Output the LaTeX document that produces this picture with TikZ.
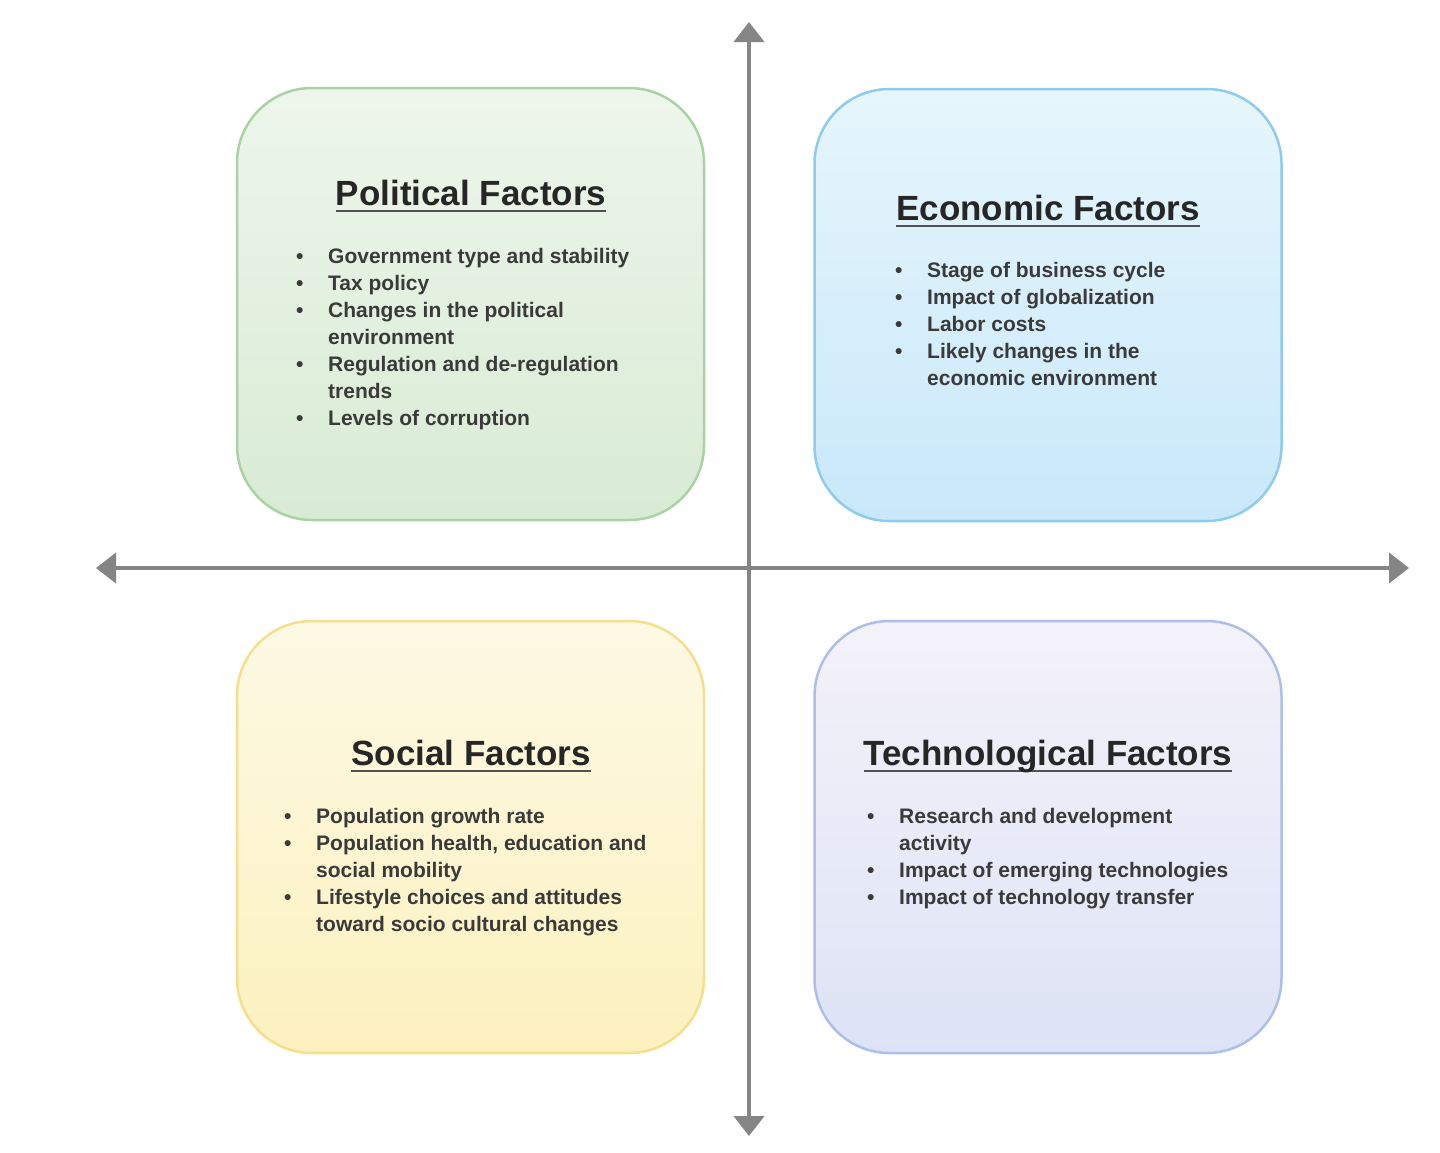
\documentclass[tikz,border=0pt]{standalone}
\usepackage{fontspec}
\setmainfont{Liberation Sans}
\usetikzlibrary{arrows.meta}
\definecolor{axisgray}{HTML}{858585}
\definecolor{txtgray}{HTML}{3A3A3A}
\definecolor{ttlgray}{HTML}{262626}
\definecolor{pTop}{HTML}{EEF6EC}
\definecolor{pBot}{HTML}{D8EBD4}
\definecolor{pBrd}{HTML}{A9D3A2}
\definecolor{eTop}{HTML}{E6F6FC}
\definecolor{eBot}{HTML}{C9E8FA}
\definecolor{eBrd}{HTML}{8ECBEF}
\definecolor{sTop}{HTML}{FDF9E4}
\definecolor{sBot}{HTML}{FCF1BE}
\definecolor{sBrd}{HTML}{F3DF8C}
\definecolor{tTop}{HTML}{F4F2F9}
\definecolor{tBot}{HTML}{DDE3F6}
\definecolor{tBrd}{HTML}{AEBFE7}
\newcommand{\bulmark}{\makebox[32pt][l]{•}}
\newcommand{\ulttl}[1]{\setbox0\hbox{#1}\leavevmode\rlap{\color{ttlgray!80}\rule[-6.5pt]{\wd0}{2.5pt}}\box0}
\begin{document}
\begin{tikzpicture}[x=1pt,y=-1pt,
  factorbox/.style={draw, line width=2.5pt, rounded corners=75pt,
    minimum width=467pt, minimum height=432pt, inner sep=0pt},
  axisline/.style={draw=axisgray, line width=4pt,
    {Triangle[length=20pt,width=30pt]}-{Triangle[length=20pt,width=30pt]}},
  ttl/.style={anchor=base, inner sep=0pt, text=ttlgray,
    font=\fontsize{35}{40}\selectfont\bfseries},
  listtxt/.style={anchor=base west, inner sep=0pt, text=txtgray,
    font=\fontsize{21}{27}\selectfont\bfseries}]
\useasboundingbox (0,0) rectangle (1440,1152);
\fill[white] (0,0) rectangle (1440,1152);

% boxes
\node[factorbox, draw=pBrd, top color=pTop, bottom color=pBot] (P) at (470.5,304) {};
\node[factorbox, draw=eBrd, top color=eTop, bottom color=eBot] (E) at (1048,305) {};
\node[factorbox, draw=sBrd, top color=sTop, bottom color=sBot] (S) at (470.5,837) {};
\node[factorbox, draw=tBrd, top color=tTop, bottom color=tBot] (T) at (1048,837) {};

% axes
\coordinate (vt) at (749,22);
\coordinate (vb) at (749,1136);
\coordinate (hl) at (96,568);
\coordinate (hr) at (1409,568);
\draw[axisline] (vt) -- (vb);
\draw[axisline] (hl) -- (hr);

% titles
\node[ttl] (Pt) at (471,205.5) {\ulttl{Political Factors}};
\node[ttl] (Et) at (1048,220.5) {\ulttl{Economic Factors}};
\node[ttl] (St) at (471,765.5) {\ulttl{Social Factors}};
\node[ttl] (Tt) at (1048,765.5) {\ulttl{Technological Factors}};

% lists
\node[listtxt] (Pl) at (296,263) {\begin{tabular}[t]{@{}l@{}l@{}}
\bulmark & Government type and stability\\
\bulmark & Tax policy\\
\bulmark & Changes in the political\\
 & environment\\
\bulmark & Regulation and de-regulation\\
 & trends\\
\bulmark & Levels of corruption
\end{tabular}};

\node[listtxt] (El) at (895,277) {\begin{tabular}[t]{@{}l@{}l@{}}
\bulmark & Stage of business cycle\\
\bulmark & Impact of globalization\\
\bulmark & Labor costs\\
\bulmark & Likely changes in the\\
 & economic environment
\end{tabular}};

\node[listtxt] (Sl) at (284,823) {\begin{tabular}[t]{@{}l@{}l@{}}
\bulmark & Population growth rate\\
\bulmark & Population health, education and\\
 & social mobility\\
\bulmark & Lifestyle choices and attitudes\\
 & toward socio cultural changes
\end{tabular}};

\node[listtxt] (Tl) at (867,823) {\begin{tabular}[t]{@{}l@{}l@{}}
\bulmark & Research and development\\
 & activity\\
\bulmark & Impact of emerging technologies\\
\bulmark & Impact of technology transfer
\end{tabular}};
\end{tikzpicture}
\end{document}
